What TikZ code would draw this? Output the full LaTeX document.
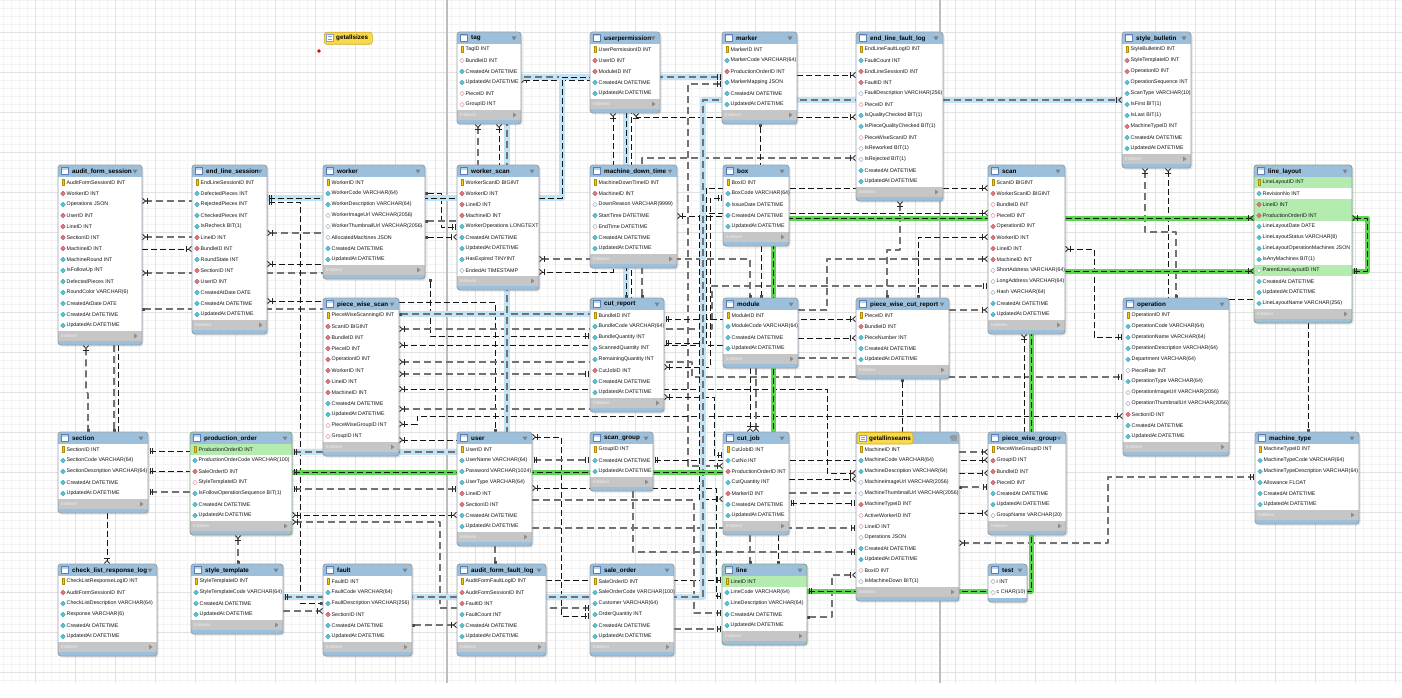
\documentclass[tikz,border=0pt]{standalone}
\usepackage{fontspec}
\setmainfont{Liberation Sans}
\usetikzlibrary{arrows.meta}

\definecolor{hdrblue}{HTML}{9CC0DC}
\definecolor{hdricon}{HTML}{5A7CB8}
\definecolor{tblborder}{HTML}{98A1AA}
\definecolor{selborder}{HTML}{84A680}
\definecolor{idxgray}{HTML}{C6C6C6}
\definecolor{rowgreen}{HTML}{B4ECB0}
\definecolor{keyyellow}{HTML}{F4C81C}
\definecolor{keyedge}{HTML}{B08A00}
\definecolor{dcyan}{HTML}{58C4D6}
\definecolor{dcyanedge}{HTML}{3A9FB2}
\definecolor{dred}{HTML}{E07882}
\definecolor{dredge}{HTML}{B85058}
\definecolor{hollowedge}{HTML}{A8B4C0}
\definecolor{pinkedge}{HTML}{E0A0A6}
\definecolor{gridmin}{HTML}{F3F3F3}
\definecolor{gridmaj}{HTML}{E2E2E2}
\definecolor{pageline}{HTML}{BDBDBD}
\definecolor{relgray}{HTML}{727272}
\definecolor{haloblue}{HTML}{C2E3F5}
\definecolor{halogreen}{HTML}{5CD64F}
\definecolor{badgeyellow}{HTML}{F8D94C}
\definecolor{badgeedge}{HTML}{D2AA1E}
\definecolor{viewicon}{HTML}{8A9ED8}

\tikzset{
  gridmin/.style={draw=gridmin, line width=0.5pt},
  gridmaj/.style={draw=gridmaj, line width=0.9pt},
  rowtext/.style={font=\fontsize{5.3}{6}\selectfont, text=black!92, inner sep=0, anchor=west},
  tbltitle/.style={font=\fontsize{6.3}{7}\selectfont\bfseries, text=black, inner sep=0, anchor=west},
  idxtext/.style={font=\fontsize{4.6}{5}\selectfont, text=white!94!black, inner sep=0, anchor=west},
  tblframe/.style={line width=0.9pt, rounded corners=3pt, inner sep=0, outer sep=0, anchor=north west},
  rel/.style={draw=black!92, line width=0.9pt, dash pattern=on 6pt off 3pt},
  relg/.style={draw=relgray, line width=1.7pt, dash pattern=on 7pt off 4pt},
  bluehl/.style={preaction={draw=haloblue, line width=6pt, solid, arrows=-}},
  greenhl/.style={preaction={draw=halogreen, line width=5pt, solid, arrows=-}},
  crow/.tip={Bar[width=5.5pt,line width=0.8pt,sep=0.8pt,color=black!85]Straight Barb[reversed,length=3pt,width=5.5pt,line width=0.8pt,color=black!85]},
  one/.tip={Bar[width=5.5pt,line width=0.8pt,sep=1.6pt,color=black!85]Bar[width=5.5pt,line width=0.8pt,sep=1.5pt,color=black!85]},
  sq/.tip={Square[length=3pt,width=3pt,color=black!70]},
}

\newif\ifidxbar \idxbartrue

% column marker icons: k key, c not-null, h nullable, r foreign key, q nullable foreign key
\newcommand\ericon[3]{%
  \if k#1%
    \fill[keyyellow] (#2-1.2,#3-2.9) rectangle (#2+1.2,#3+2.5);%
    \draw[keyedge, line width=0.3pt] (#2-1.2,#3-2.9) rectangle (#2+1.2,#3+2.5);%
  \fi
  \if c#1%
    \filldraw[fill=dcyan, draw=dcyanedge, line width=0.3pt] (#2-2.3,#3) -- (#2,#3-2.3) -- (#2+2.3,#3) -- (#2,#3+2.3) -- cycle;%
  \fi
  \if h#1%
    \filldraw[fill=white, draw=hollowedge, line width=0.5pt] (#2-2.2,#3) -- (#2,#3-2.2) -- (#2+2.2,#3) -- (#2,#3+2.2) -- cycle;%
  \fi
  \if r#1%
    \filldraw[fill=dred, draw=dredge, line width=0.3pt] (#2-2.3,#3) -- (#2,#3-2.3) -- (#2+2.3,#3) -- (#2,#3+2.3) -- cycle;%
  \fi
  \if q#1%
    \filldraw[fill=white, draw=pinkedge, line width=0.5pt] (#2-2.2,#3) -- (#2,#3-2.2) -- (#2+2.2,#3) -- (#2,#3+2.2) -- cycle;%
  \fi
}

% #1 name, #2 left, #3 top, #4 width, #5 title, #6 columns, #7 highlighted rows (0 = none), #8 frame colour
\newcommand\ertable[8]{%
  \gdef\ern{0}%
  \foreach \rt/\rs [count=\ri] in {#6} {\xdef\ern{\ri}}%
  \pgfmathsetmacro\erbody{#3+12+11*\ern}%
  \ifidxbar\pgfmathsetmacro\eridx{\erbody+10}\else\let\eridx\erbody\fi
  \pgfmathsetmacro\erbot{\eridx+4}%
  \pgfmathsetmacro\erright{#2+#4}%
  \pgfmathsetmacro\erh{\erbot-#3}%
  \fill[black, opacity=0.10, rounded corners=3pt] (#2+1.5,#3+1.5) rectangle (\erright+1.5,\erbot+1.5);
  \fill[hdrblue, rounded corners=3pt] (#2,#3) rectangle (\erright,\erbot);
  \fill[white] (#2,#3+12) rectangle (\erright,\erbody);
  \foreach \rg in {#7} {\ifnum\rg>0 \fill[rowgreen] (#2,#3+1+11*\rg) rectangle (\erright,#3+12+11*\rg);\fi}%
  \ifidxbar
    \fill[idxgray] (#2,\erbody) rectangle (\erright,\eridx);
    \node[idxtext] at (#2+3,\erbody+5) {Indexes};
    \fill[black!45] (\erright-8,\erbody+2.5) -- (\erright-4.5,\erbody+5) -- (\erright-8,\erbody+7.5) -- cycle;
  \fi
  \foreach \rt/\rs [count=\ri] in {#6} {%
    \pgfmathsetmacro\ry{#3+6.5+11*\ri}%
    \ericon{\rt}{#2+5}{\ry}%
    \node[rowtext] at (#2+8.5,\ry) {\rs};}%
  \filldraw[fill=white, draw=hdricon, line width=0.6pt] (#2+3.5,#3+2.5) rectangle (#2+10.5,#3+9.5);
  \fill[hdrblue!70] (#2+4,#3+3) rectangle (#2+10,#3+4.5);
  \node[tbltitle] at (#2+14,#3+6.5) {#5};
  \fill[black!50] (\erright-9.5,#3+4.5) -- (\erright-4.5,#3+4.5) -- (\erright-7,#3+8.5) -- cycle;
  \node[tblframe, draw=#8, minimum width=#4, minimum height=\erh] (#1) at (#2,#3) {};
}

\begin{document}
\begin{tikzpicture}[x=1pt,y=-1pt,line join=round]
\useasboundingbox (0,0) rectangle (1402,698);
\fill[white] (0,0) rectangle (1402,698);

% canvas grid and page borders
\foreach \gx in {3,11,...,1402} \draw[gridmin] (\gx,0) -- (\gx,683);
\foreach \gy in {0,8,...,683} \draw[gridmin] (0,\gy) -- (1402,\gy);
\foreach \gx in {35,75,...,1402} \draw[gridmaj] (\gx,0) -- (\gx,683);
\foreach \gy in {32,72,...,683} \draw[gridmaj] (0,\gy) -- (1402,\gy);
\draw[pageline, line width=1.5pt] (447,0) -- (447,683);
\draw[pageline, line width=1.5pt] (940,0) -- (940,683);

% table frames placed first so that connectors can refer to them
\begin{scope}[opacity=0]
\foreach \nm/\nx/\ny/\nw/\nh in {tag/457/32/64/92,userpermission/590/32/70/81,marker/722/32/75/92,end_line_fault_log/856/32/87/169,style_bulletin/1122/32/69/136,
 audit_form_session/58/165/84/180,end_line_session/192/165/75/169,worker/323/165/102/114,worker_scan/457/165/82/125,machine_down_time/590/165/87/103,box/723/165/66/81,scan/988/165/77/169,line_layout/1254/165/98/158,
 piece_wise_scan/323/298/76/158,cut_report/590/298/74/114,module/723/298/75/70,piece_wise_cut_report/856/298/93/81,operation/1123/298/106/158,
 section/58/432/90/81,production_order/190/432/102/103,user/457/432/75/114,scan_group/590/432/63/59,cut_job/723/432/66/103,getallinseams/856/432/103/169,piece_wise_group/988/432/78/103,machine_type/1255/432/104/92,
 check_list_response_log/58/564/99/92,style_template/191/564/92/70,fault/323/564/89/92,audit_form_fault_log/457/564/89/92,sale_order/590/564/84/92,line/722/564/85/81,test/988/564/39/38}
 \node[tblframe, minimum width=\nw, minimum height=\nh] (\nm) at (\nx,\ny) {};
\end{scope}

% ---------- relationship connectors ----------
\draw[relg, arrows={crow-}] (audit_form_session.east |- 0,201) -- (end_line_session.west |- 0,201);
\draw[relg, arrows={crow-}] (audit_form_session.east |- 0,237) -- (end_line_session.west |- 0,237);
\draw[rel, arrows={-crow}] (audit_form_session.east |- 0,249) -- (end_line_session.west |- 0,249);
\draw[relg, arrows={crow-}] (audit_form_session.east |- 0,273) -- (worker.west |- 0,273);
\draw[relg, arrows={sq-}] (audit_form_session.east |- 0,309) -- (piece_wise_scan.west |- 0,309);
\draw[relg, arrows={crow-}] (end_line_session.east |- 0,233) -- (worker.west |- 0,233);
\draw[rel, arrows={crow-}] (end_line_session.east |- 0,264) -- (worker.west |- 0,264);
\draw[rel, arrows={crow-}] (end_line_session.east |- 0,301) -- (piece_wise_scan.west |- 0,301);
\draw[rel, arrows={one-sq}] (end_line_session.east |- 0,202) -- (300,202) -- (300,603) -- (fault.west |- 0,603);
\draw[relg, arrows={crow-sq}] (86,0 |- audit_form_session.south) -- (86,390) -- (88,394) -- (88,0 |- section.north);
\draw[relg, arrows={-sq}] (114,0 |- audit_form_session.south) -- (114,0 |- section.north);
\draw[rel] (118,0 |- audit_form_session.south) -- (118,0 |- section.north);
\draw[rel, arrows={one-}] (section.east |- 0,451) -- (production_order.west |- 0,451);
\draw[rel, arrows={one-}] (section.east |- 0,471) -- (production_order.west |- 0,471);
\draw[relg, arrows={one-}] (section.east |- 0,492) -- (production_order.west |- 0,492);
\draw[rel, arrows={-crow}] (107,0 |- section.south) -- (107,0 |- check_list_response_log.north);
\draw[relg, arrows={crow-sq}] (238,0 |- production_order.south) -- (238,0 |- style_template.north);
\draw[relg, arrows={one-one}] (production_order.east |- 0,489) -- (user.west |- 0,489);
\draw[rel, arrows={crow-crow}] (production_order.east |- 0,515) -- (user.west |- 0,515);
\draw[relg, arrows={crow-one}] (production_order.east |- 0,522) -- (440,522) -- (440,608) -- (sale_order.west |- 0,608);
\draw[rel, arrows={crow-one}] (user.east |- 0,437) -- (561,437) -- (561,616) -- (sale_order.west |- 0,616);
\draw[relg, arrows={-crow}] (style_template.east |- 0,611) -- (fault.west |- 0,611);
\draw[relg, arrows={sq-crow}] (fault.east |- 0,625) -- (audit_form_fault_log.west |- 0,625);
\draw[relg, arrows={-sq}] (495,0 |- user.south) -- (495,0 |- audit_form_fault_log.north);

\draw[relg, arrows={crow-}] (478,0 |- tag.south) -- (478,0 |- worker_scan.north);
\draw[rel, arrows={crow-}] (499,0 |- tag.south) -- (499,0 |- worker_scan.north);
\draw[rel, arrows={-crow}] (marker.east |- 0,75) -- (end_line_fault_log.west |- 0,75);
\draw[rel, arrows={crow-crow}] (636,0 |- userpermission.south) -- (636,117) -- (end_line_fault_log.west |- 0,117);
\draw[relg, arrows={sq-crow}] (642,0 |- cut_report.north) -- (642,158) -- (end_line_fault_log.west |- 0,158);
\draw[rel, arrows={crow-crow}] (613,0 |- userpermission.south) -- (613,272) -- (worker_scan.east |- 0,272);
\draw[relg, arrows={one-crow}] (marker.west |- 0,84) -- (688,84) -- (688,466) -- (cut_job.west |- 0,466);
\draw[rel, arrows={sq-}] (760,0 |- marker.south) -- (760,0 |- box.north);
\draw[rel, arrows={crow-}] (tag.east |- 0,80) -- (631,80) -- (631,0 |- cut_report.north);

\draw[rel, arrows={sq-crow}] (worker.east |- 0,237) -- (worker_scan.west |- 0,237);
\draw[rel, arrows={sq-one}] (worker.east |- 0,193) -- (441,193) -- (441,227) -- (worker_scan.west |- 0,227);
\draw[relg, arrows={sq-}] (worker.east |- 0,221) -- (worker_scan.west |- 0,221);
\draw[rel, arrows={sq-one}] (430,0 |- worker.south) -- (430,336) -- (cut_report.west |- 0,336);
\draw[relg, arrows={crow-sq}] (worker_scan.east |- 0,259) -- (750,259) -- (750,0 |- module.north);
\draw[rel, arrows={crow-}] (machine_down_time.east |- 0,216) -- (box.west |- 0,216);

\draw[rel, arrows={-sq}] (piece_wise_scan.east |- 0,302) -- (495,302) -- (495,0 |- user.north);
\draw[relg, arrows={crow-one}] (piece_wise_scan.east |- 0,329) -- (712,329) -- (712,286) -- (scan.west |- 0,286);
\draw[rel, arrows={crow-}] (piece_wise_scan.east |- 0,345) -- (module.west |- 0,345);
\draw[relg, arrows={crow-one}] (piece_wise_scan.east |- 0,362) -- (692,362) -- (692,377) -- (operation.west |- 0,377);
\draw[relg, arrows={crow-one}] (piece_wise_scan.east |- 0,374) -- (cut_report.west |- 0,374);
\draw[rel, arrows={crow-crow}] (piece_wise_scan.east |- 0,389) -- (827,389) -- (827,473) -- (getallinseams.west |- 0,473);
\draw[relg, arrows={crow-}] (piece_wise_scan.east |- 0,409) -- (cut_report.west |- 0,409);
\draw[rel, arrows={crow-crow}] (piece_wise_scan.east |- 0,424) -- (417,424) -- (417,416) -- (operation.west |- 0,416);
\draw[rel, arrows={crow-}] (piece_wise_scan.east |- 0,440) -- (user.west |- 0,440);
\draw[relg, arrows={one-one}] (user.east |- 0,460) -- (scan_group.west |- 0,460);
\draw[rel, arrows={one-crow}] (scan_group.east |- 0,460) -- (piece_wise_group.west |- 0,460);

\draw[rel, arrows={one-crow}] (cut_report.east |- 0,319) -- (piece_wise_cut_report.west |- 0,319);
\draw[rel, arrows={one-crow}] (cut_report.east |- 0,343) -- (706,343) -- (706,188) -- (scan.west |- 0,188);
\draw[rel, arrows={crow-one}] (cut_report.east |- 0,367) -- (710,367) -- (710,198) -- (box.west |- 0,198);
\draw[rel, arrows={crow-crow}] (scan.west |- 0,213) -- (699,213) -- (699,499) -- (cut_job.west |- 0,499);
\draw[rel, arrows={crow-one}] (cut_report.east |- 0,397) -- (714,397) -- (714,455) -- (cut_job.west |- 0,455);

\draw[rel, arrows={-crow}] (module.east |- 0,338) -- (piece_wise_cut_report.west |- 0,338);
\draw[relg] (module.east |- 0,358) -- (piece_wise_cut_report.west |- 0,358);
\draw[relg, arrows={crow-}] (scan.west |- 0,259) -- (827,259) -- (827,310) -- (module.east |- 0,310);
\draw[relg, arrows={-crow}] (piece_wise_cut_report.east |- 0,310) -- (scan.west |- 0,310);
\draw[rel, arrows={crow-sq}] (scan.west |- 0,237) -- (918,237) -- (918,0 |- piece_wise_cut_report.north);
\draw[relg, arrows={crow-sq}] (900,0 |- end_line_fault_log.south) -- (900,250) -- (887,250) -- (887,0 |- piece_wise_cut_report.north);
\draw[rel, arrows={sq-}] (902,0 |- piece_wise_cut_report.south) -- (902,0 |- getallinseams.north);
\draw[rel, arrows={-sq}] (761,0 |- box.south) -- (761,0 |- module.north);
\draw[rel, arrows={-crow}] (750,0 |- module.south) -- (750,0 |- cut_job.north);
\draw[relg, arrows={-crow}] (756,0 |- module.south) -- (756,0 |- cut_job.north);
\draw[relg, arrows={-sq}] (750,0 |- cut_job.south) -- (750,0 |- line.north);
\draw[rel, arrows={-sq}] (778,0 |- cut_job.south) -- (778,0 |- line.north);
\draw[rel, arrows={-crow}] (cut_job.east |- 0,479) -- (getallinseams.west |- 0,479);
\draw[relg] (cut_job.east |- 0,493) -- (getallinseams.west |- 0,493);
\draw[rel, arrows={one-one}] (cut_job.east |- 0,503) -- (getallinseams.west |- 0,503);
\draw[relg, arrows={-one}] (user.east |- 0,528) -- (getallinseams.west |- 0,528);
\draw[relg, arrows={-one}] (633,0 |- scan_group.south) -- (633,552) -- (getallinseams.west |- 0,552);
\draw[relg, arrows={sq-crow}] (line.east |- 0,617) -- (832,617) -- (832,575) -- (getallinseams.west |- 0,575);
\draw[rel, arrows={-crow}] (getallinseams.east |- 0,473) -- (piece_wise_group.west |- 0,473);
\draw[relg, arrows={sq-one}] (getallinseams.east |- 0,487) -- (piece_wise_group.west |- 0,487);
\draw[rel, arrows={-crow}] (getallinseams.east |- 0,513) -- (piece_wise_group.west |- 0,513);
\draw[relg, arrows={-crow}] (getallinseams.east |- 0,452) -- (piece_wise_group.west |- 0,452);
\draw[relg, arrows={crow-one}] (getallinseams.east |- 0,543) -- (1108,543) -- (1108,477) -- (machine_type.west |- 0,477);
\draw[rel, arrows={crow-}] (1024,0 |- scan.south) -- (1024,0 |- piece_wise_group.north);

\draw[rel, arrows={-one}] (audit_form_fault_log.east |- 0,580) -- (line.west |- 0,580);
\draw[rel, arrows={crow-one}] (user.east |- 0,488) -- (716,488) -- (716,596) -- (line.west |- 0,596);
\draw[relg, arrows={-one}] (user.east |- 0,500) -- (694,500) -- (694,613) -- (line.west |- 0,613);
\draw[relg, arrows={-one}] (sale_order.east |- 0,629) -- (line.west |- 0,629);

\draw[rel, arrows={crow-one}] (scan.east |- 0,249) -- (1094,249) -- (1094,337) -- (operation.west |- 0,337);
\draw[relg, arrows={crow-sq}] (1145,0 |- style_bulletin.south) -- (1145,232) -- (1176,232) -- (1176,0 |- operation.north);
\draw[rel, arrows={crow-}] (1168,0 |- style_bulletin.south) -- (1168,0 |- operation.north);
\draw[rel] (operation.east |- 0,299) -- (line_layout.west |- 0,299);
\draw[rel, arrows={-sq}] (1308,0 |- line_layout.south) -- (1308,0 |- machine_type.north);

% hovered relationships (blue)
\draw[relg, bluehl, arrows={one-crow}] (style_template.east |- 0,597) -- (703,597) -- (703,100) -- (style_bulletin.west |- 0,100);
\draw[relg, bluehl, arrows={sq-}] (piece_wise_scan.east |- 0,314) -- (cut_report.west |- 0,314);
\draw[relg, bluehl, arrows={one-one}] (production_order.east |- 0,452) -- (507,452) -- (507,77) -- (marker.west |- 0,77);
\draw[rel, bluehl, arrows={one-sq}] (end_line_session.east |- 0,198) -- (562,198) -- (562,77) -- (626,77) -- (626,0 |- cut_report.north);

% selected table relationships (green)
\draw[rel, greenhl, arrows={one-crow}] (production_order.east |- 0,472) -- (773,472) -- (773,218) -- (line_layout.west |- 0,218);
\draw[rel, greenhl, arrows={one-crow}] (line.east |- 0,591) -- (1031,591) -- (1031,271) -- (line_layout.west |- 0,271);
\draw[rel, greenhl, arrows={crow-one}] (line_layout.east |- 0,218) -- (1367,218) -- (1367,271) -- (line_layout.east |- 0,271);

% ---------- table bodies ----------
\ertable{tag}{457}{32}{64}{tag}{k/TagID INT,q/BundleID INT,c/CreatedAt DATETIME,c/UpdatedAt DATETIME,q/PieceID INT,q/GroupID INT}{0}{tblborder}
\ertable{userpermission}{590}{32}{70}{userpermission}{k/UserPermissionID INT,r/UserID INT,r/ModuleID INT,c/CreatedAt DATETIME,c/UpdatedAt DATETIME}{0}{tblborder}
\ertable{marker}{722}{32}{75}{marker}{k/MarkerID INT,c/MarkerCode VARCHAR(64),r/ProductionOrderID INT,c/MarkerMapping JSON,c/CreatedAt DATETIME,c/UpdatedAt DATETIME}{0}{tblborder}
\ertable{end_line_fault_log}{856}{32}{87}{end\_line\_fault\_log}{k/EndLineFaultLogID INT,c/FaultCount INT,r/EndLineSessionID INT,r/FaultID INT,h/FaultDescription VARCHAR(256),q/PieceID INT,c/IsQualityChecked BIT(1),c/IsPieceQualityChecked BIT(1),q/PieceWiseScanID INT,h/IsReworked BIT(1),h/IsRejected BIT(1),c/CreatedAt DATETIME,c/UpdatedAt DATETIME}{0}{tblborder}
\ertable{style_bulletin}{1122}{32}{69}{style\_bulletin}{k/StyleBulletinID INT,r/StyleTemplateID INT,r/OperationID INT,c/OperationSequence INT,c/ScanType VARCHAR(10),c/IsFirst BIT(1),c/IsLast BIT(1),r/MachineTypeID INT,c/CreatedAt DATETIME,c/UpdatedAt DATETIME}{0}{tblborder}

\ertable{audit_form_session}{58}{165}{84}{audit\_form\_session}{k/AuditFormSessionID INT,r/WorkerID INT,c/Operations JSON,r/UserID INT,r/LineID INT,r/SectionID INT,r/MachineID INT,c/MachineRound INT,c/IsFollowUp INT,c/DefectedPieces INT,c/RoundColor VARCHAR(6),c/CreatedAtDate DATE,c/CreatedAt DATETIME,c/UpdatedAt DATETIME}{0}{tblborder}
\ertable{end_line_session}{192}{165}{75}{end\_line\_session}{k/EndLineSessionID INT,c/DefectedPieces INT,c/RejectedPieces INT,c/CheckedPieces INT,c/IsRecheck BIT(1),r/LineID INT,r/BundleID INT,c/RoundState INT,r/SectionID INT,r/UserID INT,c/CreatedAtDate DATE,c/CreatedAt DATETIME,c/UpdatedAt DATETIME}{0}{tblborder}
\ertable{worker}{323}{165}{102}{worker}{k/WorkerID INT,c/WorkerCode VARCHAR(64),c/WorkerDescription VARCHAR(64),h/WorkerImageUrl VARCHAR(2056),h/WorkerThumbnailUrl VARCHAR(2056),h/AllocatedMachines JSON,c/CreatedAt DATETIME,c/UpdatedAt DATETIME}{0}{tblborder}
\ertable{worker_scan}{457}{165}{82}{worker\_scan}{k/WorkerScanID BIGINT,r/WorkerID INT,r/LineID INT,r/MachineID INT,c/WorkerOperations LONGTEXT,c/CreatedAt DATETIME,c/UpdatedAt DATETIME,c/HasExpired TINYINT,h/EndedAt TIMESTAMP}{0}{tblborder}
\ertable{machine_down_time}{590}{165}{87}{machine\_down\_time}{k/MachineDownTimeID INT,r/MachineID INT,h/DownReason VARCHAR(9999),c/StartTime DATETIME,h/EndTime DATETIME,c/CreatedAt DATETIME,c/UpdatedAt DATETIME}{0}{tblborder}
\ertable{box}{723}{165}{66}{box}{k/BoxID INT,c/BoxCode VARCHAR(64),c/IssueDate DATETIME,c/CreatedAt DATETIME,c/UpdatedAt DATETIME}{0}{tblborder}
\ertable{scan}{988}{165}{77}{scan}{k/ScanID BIGINT,r/WorkerScanID BIGINT,q/BundleID INT,q/PieceID INT,r/OperationID INT,r/WorkerID INT,r/LineID INT,r/MachineID INT,h/ShortAddress VARCHAR(64),h/LongAddress VARCHAR(64),h/Hash VARCHAR(64),c/CreatedAt DATETIME,c/UpdatedAt DATETIME}{0}{tblborder}
\ertable{line_layout}{1254}{165}{98}{line\_layout}{k/LineLayoutID INT,c/RevisionNo INT,r/LineID INT,r/ProductionOrderID INT,c/LineLayoutDate DATE,c/LineLayoutStatus VARCHAR(8),c/LineLayoutOperationMachines JSON,c/IsAnyMachines BIT(1),h/ParentLineLayoutID INT,c/CreatedAt DATETIME,c/UpdatedAt DATETIME,c/LineLayoutName VARCHAR(256)}{1,3,4,9}{selborder}

\ertable{piece_wise_scan}{323}{298}{76}{piece\_wise\_scan}{k/PieceWiseScanningID INT,r/ScanID BIGINT,r/BundleID INT,r/PieceID INT,r/OperationID INT,r/WorkerID INT,r/LineID INT,r/MachineID INT,c/CreatedAt DATETIME,c/UpdatedAt DATETIME,q/PieceWiseGroupID INT,q/GroupID INT}{0}{tblborder}
\ertable{cut_report}{590}{298}{74}{cut\_report}{k/BundleID INT,c/BundleCode VARCHAR(64),c/BundleQuantity INT,c/ScannedQuantity INT,c/RemainingQuantity INT,r/CutJobID INT,c/CreatedAt DATETIME,c/UpdatedAt DATETIME}{0}{tblborder}
\ertable{module}{723}{298}{75}{module}{k/ModuleID INT,c/ModuleCode VARCHAR(64),c/CreatedAt DATETIME,c/UpdatedAt DATETIME}{0}{tblborder}
\ertable{piece_wise_cut_report}{856}{298}{93}{piece\_wise\_cut\_report}{k/PieceID INT,r/BundleID INT,c/PieceNumber INT,c/CreatedAt DATETIME,c/UpdatedAt DATETIME}{0}{tblborder}
\ertable{operation}{1123}{298}{106}{operation}{k/OperationID INT,c/OperationCode VARCHAR(64),c/OperationName VARCHAR(64),c/OperationDescription VARCHAR(64),c/Department VARCHAR(64),h/PieceRate INT,c/OperationType VARCHAR(64),h/OperationImageUrl VARCHAR(2056),h/OperationThumbnailUrl VARCHAR(2056),r/SectionID INT,c/CreatedAt DATETIME,c/UpdatedAt DATETIME}{0}{tblborder}

\ertable{section}{58}{432}{90}{section}{k/SectionID INT,c/SectionCode VARCHAR(64),c/SectionDescription VARCHAR(64),c/CreatedAt DATETIME,c/UpdatedAt DATETIME}{0}{tblborder}
\ertable{production_order}{190}{432}{102}{production\_order}{k/ProductionOrderID INT,c/ProductionOrderCode VARCHAR(100),r/SaleOrderID INT,q/StyleTemplateID INT,c/IsFollowOperationSequence BIT(1),c/CreatedAt DATETIME,c/UpdatedAt DATETIME}{1}{selborder}
\ertable{user}{457}{432}{75}{user}{k/UserID INT,c/UserName VARCHAR(64),c/Password VARCHAR(1024),c/UserType VARCHAR(64),r/LineID INT,r/SectionID INT,c/CreatedAt DATETIME,c/UpdatedAt DATETIME}{0}{tblborder}
\ertable{scan_group}{590}{432}{63}{scan\_group}{k/GroupID INT,c/CreatedAt DATETIME,c/UpdatedAt DATETIME}{0}{tblborder}
\ertable{cut_job}{723}{432}{66}{cut\_job}{k/CutJobID INT,c/CutNo INT,r/ProductionOrderID INT,c/CutQuantity INT,r/MarkerID INT,c/CreatedAt DATETIME,c/UpdatedAt DATETIME}{0}{tblborder}
\ertable{getallinseams}{856}{432}{103}{}{k/MachineID INT,c/MachineCode VARCHAR(64),c/MachineDescription VARCHAR(64),h/MachineImageUrl VARCHAR(2056),h/MachineThumbnailUrl VARCHAR(2056),r/MachineTypeID INT,q/ActiveWorkerID INT,q/LineID INT,h/Operations JSON,c/CreatedAt DATETIME,c/UpdatedAt DATETIME,q/BoxID INT,h/IsMachineDown BIT(1)}{0}{tblborder}
\ertable{piece_wise_group}{988}{432}{78}{piece\_wise\_group}{k/PieceWiseGroupID INT,r/GroupID INT,r/BundleID INT,r/PieceID INT,c/CreatedAt DATETIME,c/UpdatedAt DATETIME,h/GroupName VARCHAR(20)}{0}{tblborder}
\ertable{machine_type}{1255}{432}{104}{machine\_type}{k/MachineTypeID INT,c/MachineTypeCode VARCHAR(64),c/MachineTypeDescription VARCHAR(64),c/Allowance FLOAT,c/CreatedAt DATETIME,c/UpdatedAt DATETIME}{0}{tblborder}

\ertable{check_list_response_log}{58}{564}{99}{check\_list\_response\_log}{k/CheckListResponseLogID INT,r/AuditFormSessionID INT,c/CheckListDescription VARCHAR(64),c/Response VARCHAR(6),c/CreatedAt DATETIME,c/UpdatedAt DATETIME}{0}{tblborder}
\ertable{style_template}{191}{564}{92}{style\_template}{k/StyleTemplateID INT,c/StyleTemplateCode VARCHAR(64),c/CreatedAt DATETIME,c/UpdatedAt DATETIME}{0}{tblborder}
\ertable{fault}{323}{564}{89}{fault}{k/FaultID INT,c/FaultCode VARCHAR(64),c/FaultDescription VARCHAR(256),r/SectionID INT,c/CreatedAt DATETIME,c/UpdatedAt DATETIME}{0}{tblborder}
\ertable{audit_form_fault_log}{457}{564}{89}{audit\_form\_fault\_log}{k/AuditFormFaultLogID INT,r/AuditFormSessionID INT,r/FaultID INT,c/FaultCount INT,c/CreatedAt DATETIME,c/UpdatedAt DATETIME}{0}{tblborder}
\ertable{sale_order}{590}{564}{84}{sale\_order}{k/SaleOrderID INT,c/SaleOrderCode VARCHAR(100),c/Customer VARCHAR(64),c/OrderQuantity INT,c/CreatedAt DATETIME,c/UpdatedAt DATETIME}{0}{tblborder}
\ertable{line}{722}{564}{85}{line}{k/LineID INT,c/LineCode VARCHAR(64),c/LineDescription VARCHAR(64),c/CreatedAt DATETIME,c/UpdatedAt DATETIME}{1}{selborder}
\idxbarfalse
\ertable{test}{988}{564}{39}{test}{h/i INT,h/c CHAR(10)}{0}{tblborder}
\idxbartrue

% view badges
\filldraw[fill=badgeyellow, draw=badgeedge, line width=0.6pt, rounded corners=2.5pt] (857,432.5) rectangle (913,444);
\filldraw[fill=white, draw=viewicon, line width=0.6pt] (859.5,435) rectangle (866,441.5);
\draw[viewicon, line width=0.5pt] (860.5,437.2) -- (865,437.2) (860.5,439.4) -- (865,439.4);
\node[tbltitle] at (869,438.5) {getallinseams};
\fill[black!40] (951,435) rectangle (956.5,440.5);

\node[draw=badgeedge, fill=badgeyellow, line width=0.6pt, rounded corners=2.5pt, minimum width=48, minimum height=12, inner sep=0, anchor=north west] (getallsizes) at (324,32) {};
\filldraw[fill=white, draw=viewicon, line width=0.6pt] (326.5,34.5) rectangle (333,41);
\draw[viewicon, line width=0.5pt] (327.5,36.7) -- (332,36.7) (327.5,38.9) -- (332,38.9);
\node[tbltitle] at (336,38) {getallsizes};
\fill[red!85!black] (319,51) circle (1.8);
\end{tikzpicture}
\end{document}
